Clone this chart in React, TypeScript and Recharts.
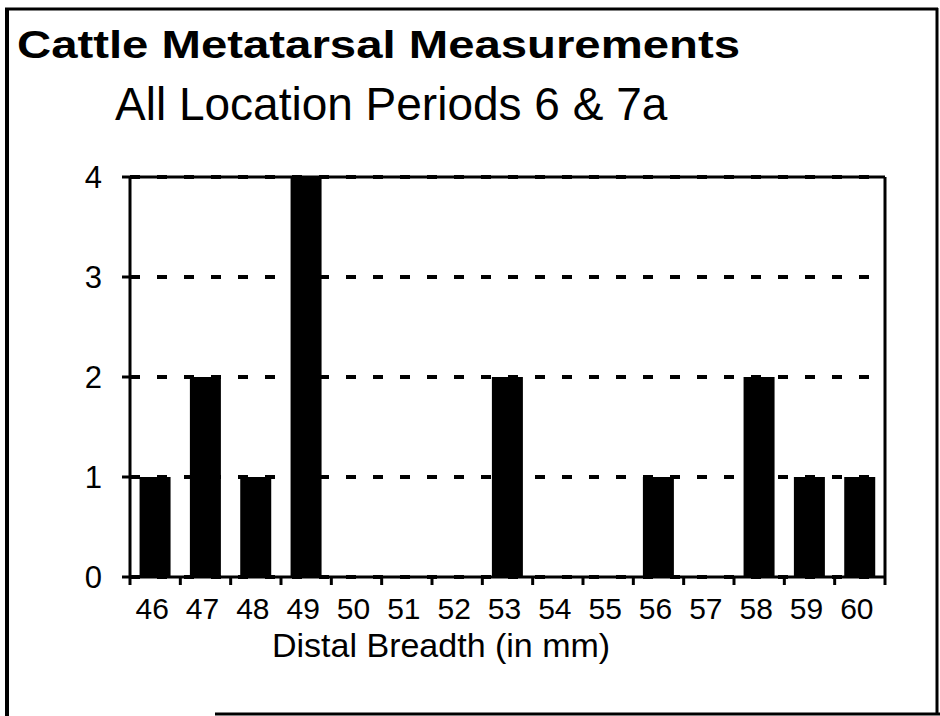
import {
  BarChart,
  Bar,
  XAxis,
  YAxis,
  CartesianGrid,
  ReferenceLine
} from 'recharts';

const breadths = ['46', '47', '48', '49', '50', '51', '52', '53', '54', '55', '56', '57', '58', '59', '60'];
const counts = [1, 2, 1, 4, 0, 0, 0, 2, 0, 0, 1, 0, 2, 1, 1];
const countTicks = [0, 1, 2, 3, 4];

const FONT = '"Liberation Sans", Arial, Helvetica, sans-serif';
const TICK_GAP = 21;

const chartData = breadths.map((breadth, i) => ({ breadth, count: counts[i] }));

// ticks sit on the band edges, labels in the middle
const BreadthTick = (props: any) => {
  const { x, y, payload, index, visibleTicksCount } = props;
  const half = payload && payload.offset ? payload.offset : 25;
  const axisY = y - TICK_GAP;
  const isLast = index === visibleTicksCount - 1;
  return (
    <g>
      <line x1={x - half} x2={x - half} y1={axisY} y2={axisY + 8} stroke="#000" strokeWidth={3} />
      {isLast && (
        <line x1={x + half} x2={x + half} y1={axisY} y2={axisY + 8} stroke="#000" strokeWidth={3} />
      )}
      <text
        x={x - 3}
        y={y}
        dy="0.71em"
        textAnchor="middle"
        fontSize={30}
        fontFamily={FONT}
        fill="#000"
      >
        {payload.value}
      </text>
    </g>
  );
};

const App = () => {
  return (
    <div
      style={{
        position: 'absolute',
        left: 0,
        top: 0,
        width: 940,
        height: 716,
        background: '#fff',
        fontFamily: FONT
      }}
    >
      <BarChart
        width={940}
        height={716}
        data={chartData}
        margin={{ top: 177, right: 45, left: 30, bottom: 79 }}
        barCategoryGap="19%"
      >
        <CartesianGrid
          vertical={false}
          stroke="#000"
          strokeWidth={4}
          strokeDasharray="10 17"
        />
        <XAxis
          dataKey="breadth"
          axisLine={{ stroke: '#000', strokeWidth: 3 }}
          tickLine={false}
          tickSize={0}
          tickMargin={TICK_GAP}
          height={60}
          interval={0}
          tick={<BreadthTick />}
        />
        <YAxis
          domain={[0, 4]}
          ticks={countTicks}
          width={100}
          axisLine={{ stroke: '#000', strokeWidth: 3 }}
          tickLine={{ stroke: '#000', strokeWidth: 3 }}
          tickSize={8}
          tickMargin={20}
          tick={{ fill: '#000', fontSize: 31, fontFamily: FONT }}
        />
        <YAxis
          yAxisId="right"
          orientation="right"
          domain={[0, 4]}
          width={10}
          tick={false}
          tickLine={false}
          axisLine={{ stroke: '#000', strokeWidth: 3 }}
        />
        <ReferenceLine y={4} stroke="#000" strokeWidth={3} />
        <Bar dataKey="count" fill="#000" isAnimationActive={false} />
      </BarChart>

      <svg
        width={940}
        height={716}
        style={{ position: 'absolute', left: 0, top: 0, pointerEvents: 'none' }}
      >
        <line x1={7} x2={7} y1={8} y2={716} stroke="#000" strokeWidth={4} />
        <line x1={5} x2={938} y1={9} y2={9} stroke="#000" strokeWidth={3} />
        <line x1={937} x2={937} y1={8} y2={714} stroke="#000" strokeWidth={3} />
        <line x1={215} x2={940} y1={714} y2={714} stroke="#000" strokeWidth={3} />
        <text
          x={17}
          y={58}
          fontSize={38}
          fontWeight="bold"
          fontFamily={FONT}
          textLength={723}
          lengthAdjust="spacingAndGlyphs"
        >
          Cattle Metatarsal Measurements
        </text>
        <text x={115} y={120} fontSize={46} fontFamily={FONT}>
          All Location Periods 6 &amp; 7a
        </text>
        <text x={272} y={657} fontSize={34} fontFamily={FONT}>
          Distal Breadth (in mm)
        </text>
      </svg>
    </div>
  );
};

export default App;
